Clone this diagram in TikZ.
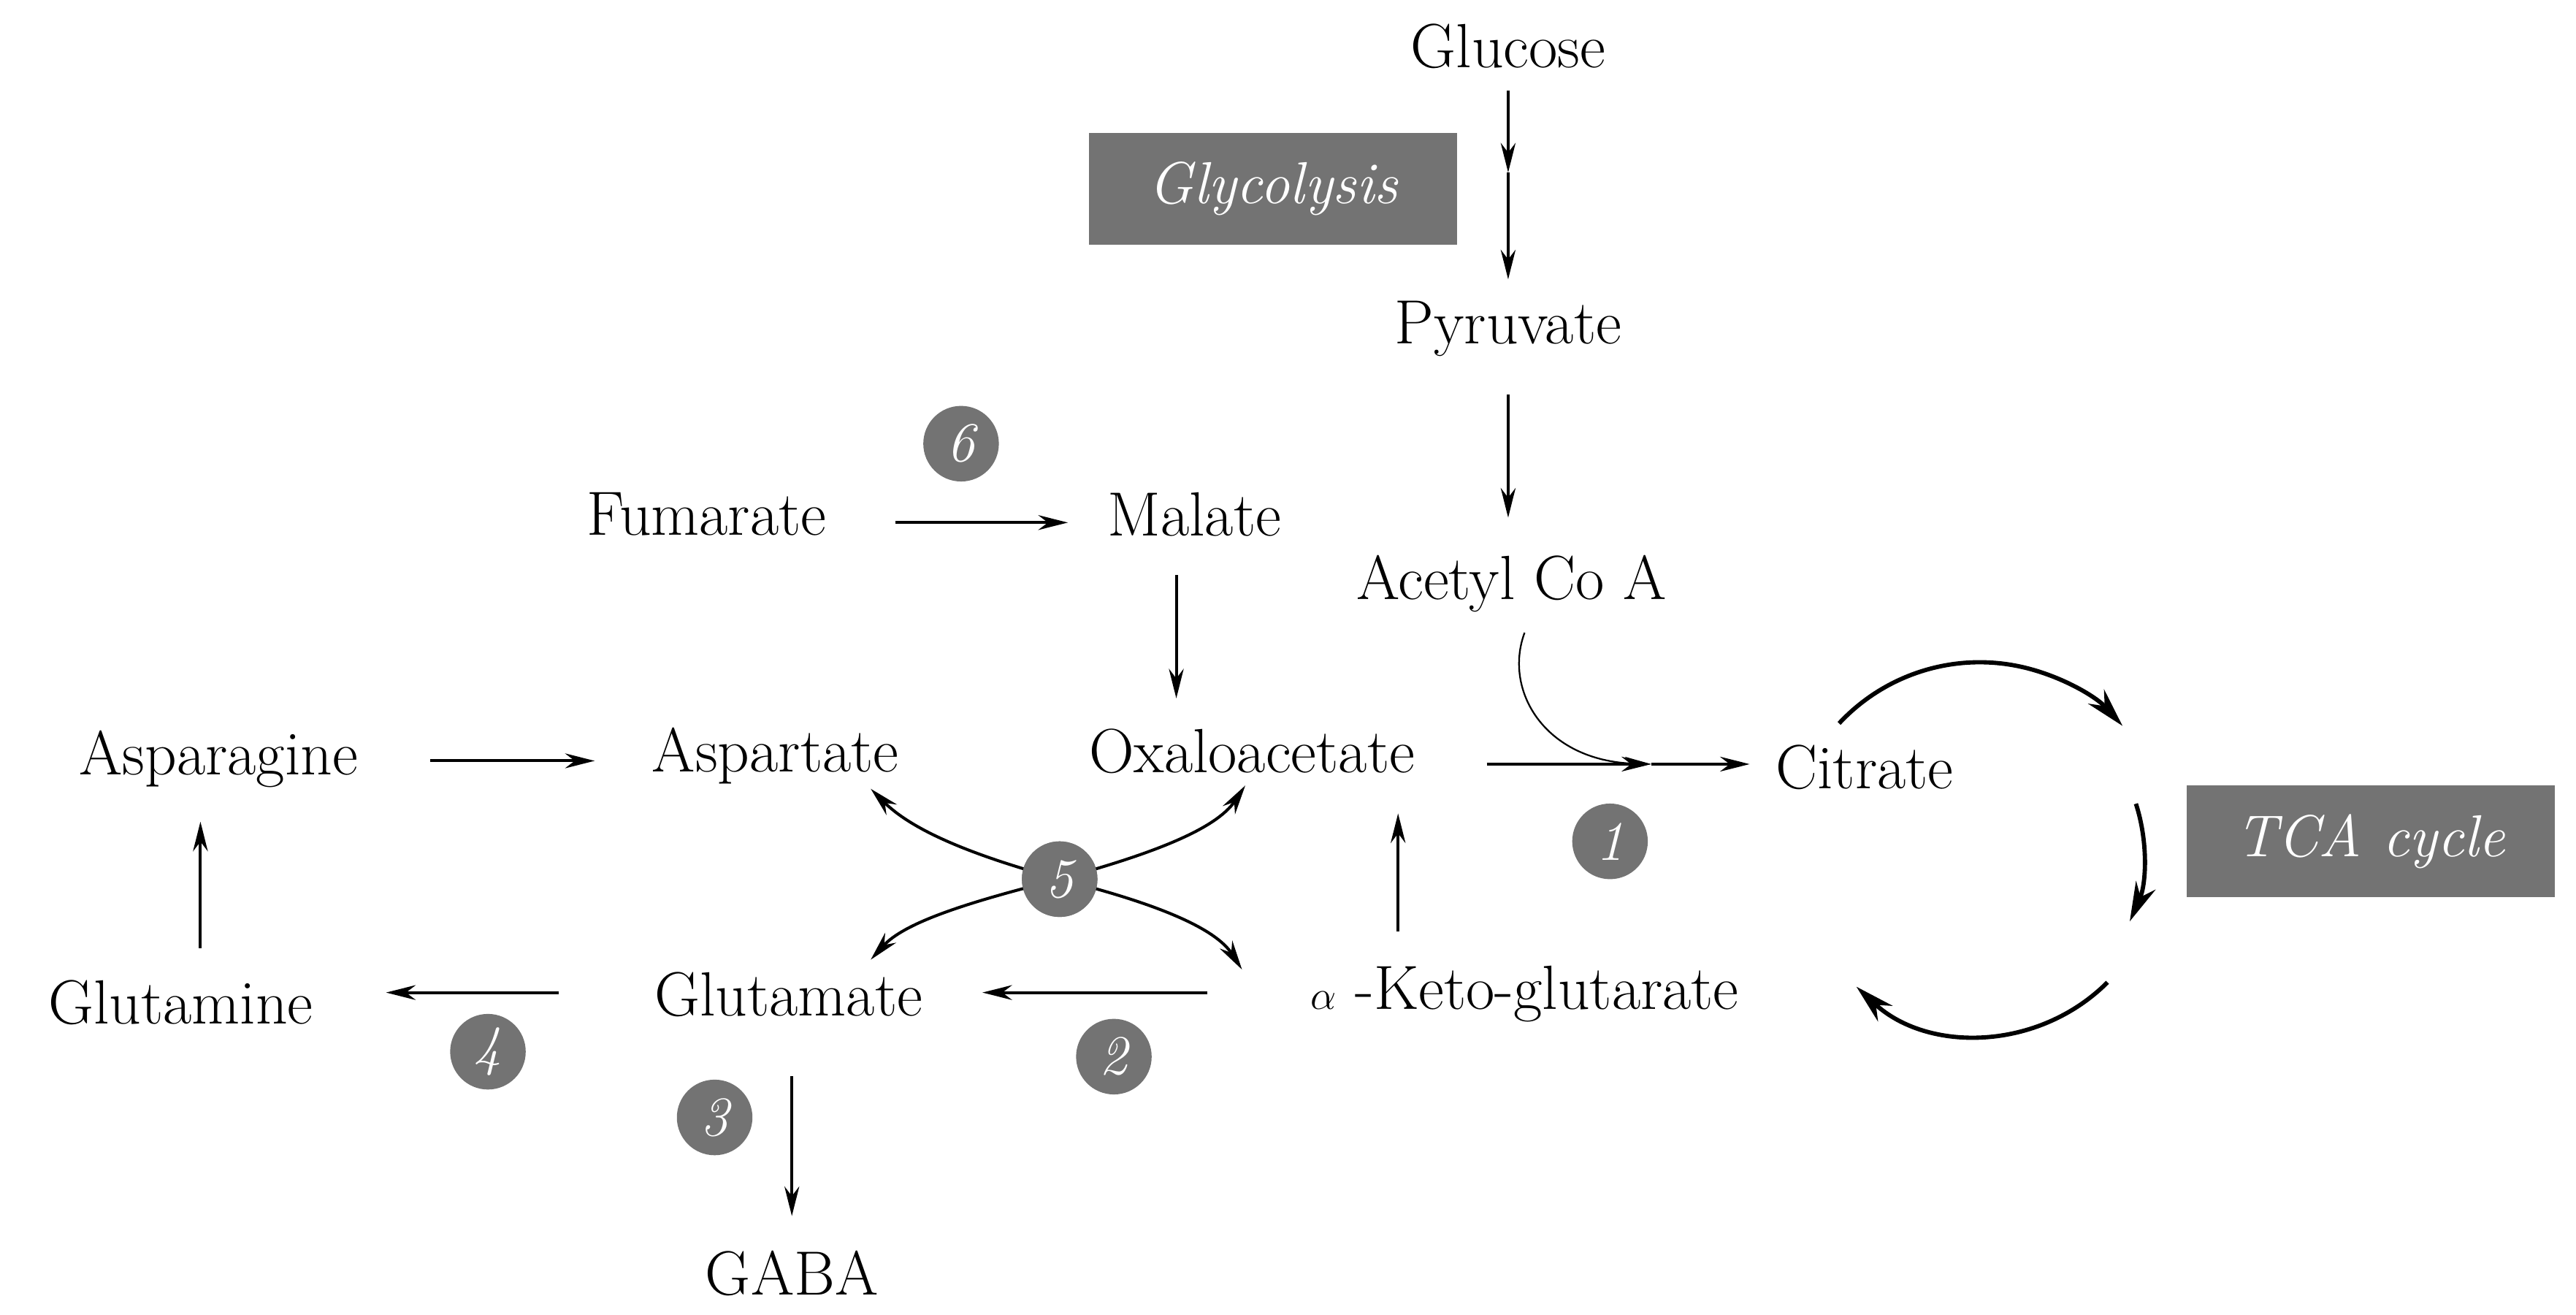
\documentclass[tikz,border=0pt]{standalone}
\usepackage{tikz}
\usetikzlibrary{arrows.meta}

\tikzset{
  met/.style={inner sep=0pt, font=\fontsize{38}{40}\selectfont},
  box/.style={fill=black!55, text=white, minimum width=224pt, minimum height=68pt, inner sep=0pt, font=\fontsize{36}{40}\selectfont\itshape},
  num/.style={circle, fill=black!55, text=white, minimum size=46pt, inner sep=0pt, font=\fontsize{34}{40}\selectfont\itshape},
  flow/.style={line width=1.8pt, -{Stealth[length=18pt,width=9pt]}},
  cyc/.style={line width=2.6pt, -{Stealth[length=24pt,width=13pt]}}
}

\begin{document}
\begin{tikzpicture}[x=1pt,y=-1pt]
\useasboundingbox (0,0) rectangle (1568,800);

% metabolites
\node[met] (glc) at (918,28) {Glucose};
\node[met] (pyr) at (918,200) {Pyruvate};
\node[met] (aca) at (920,355) {Acetyl Co A};
\node[met] (fum) at (430,313) {Fumarate};
\node[met] (mal) at (727,313) {Malate};
\node[met] (oaa) at (762,457) {Oxaloacetate};
\node[met] (cit) at (1135,467) {Citrate};
\node[met] (asn) at (133,462) {Asparagine};
\node[met] (asp) at (472,460) {Aspartate};
\node[met] (gln) at (110,610) {Glutamine};
\node[met] (glu) at (480,605) {Glutamate};
\node[met] (akg) at (928,605) {$\alpha$ -Keto-glutarate};
\node[met] (gaba) at (482,775) {GABA};

% boxes
\node[box] (glyc) at (775,115) {Glycolysis};
\node[box] (tca) at (1443,512) {TCA cycle};

% enzyme numbers
\node[num] (n1) at (980,512) {1};
\node[num] (n2) at (678,643) {2};
\node[num] (n3) at (435,680) {3};
\node[num] (n4) at (297,640) {4};
\node[num] (n5) at (645,535) {5};
\node[num] (n6) at (585,270) {6};

% helper points
\coordinate (g1) at (918,105);
\coordinate (oc) at (1005,465);

% arrows
\draw[flow] (918,55) -- (g1);
\draw[flow] (g1) -- (918,170);
\draw[flow] (918,240) -- (918,315);
\draw[flow] (545,318) -- (650,318);
\draw[flow] (716,350) -- (716,425);
\draw[flow] (262,463) -- (362,463);
\draw[flow] (340,604) -- (235,604);
\draw[flow] (122,577) -- (122,500);
\draw[flow] (735,604) -- (598,604);
\draw[flow] (482,655) -- (482,740);
\draw[flow] (851,567) -- (851,495);
\draw[flow] (905,465) -- (oc);
\draw[flow] (oc) -- (1065,465);
\draw[line width=1pt, -{Stealth[length=16pt,width=8pt]}] (928,385) .. controls (915,420) and (940,463) .. (oc);

% crossing arrows at 5
\draw[flow] (n5.center) .. controls (590,520) and (555,505) .. (530,480);
\draw[flow] (n5.center) .. controls (700,520) and (740,505) .. (758,478);
\draw[flow] (n5.center) .. controls (585,550) and (550,562) .. (530,584);
\draw[flow] (n5.center) .. controls (705,550) and (740,565) .. (756,590);
\node[num] at (n5) {5};

% TCA cycle arcs
\coordinate (cc) at (1205,520);
\draw[cyc] ([shift={(223:117)}]cc) arc (223:318:117);
\draw[cyc] ([shift={(342:100)}]cc) arc (342:384:100);
\draw[cyc] ([shift={(45:110)}]cc) arc (45:133:110);
\end{tikzpicture}
\end{document}
